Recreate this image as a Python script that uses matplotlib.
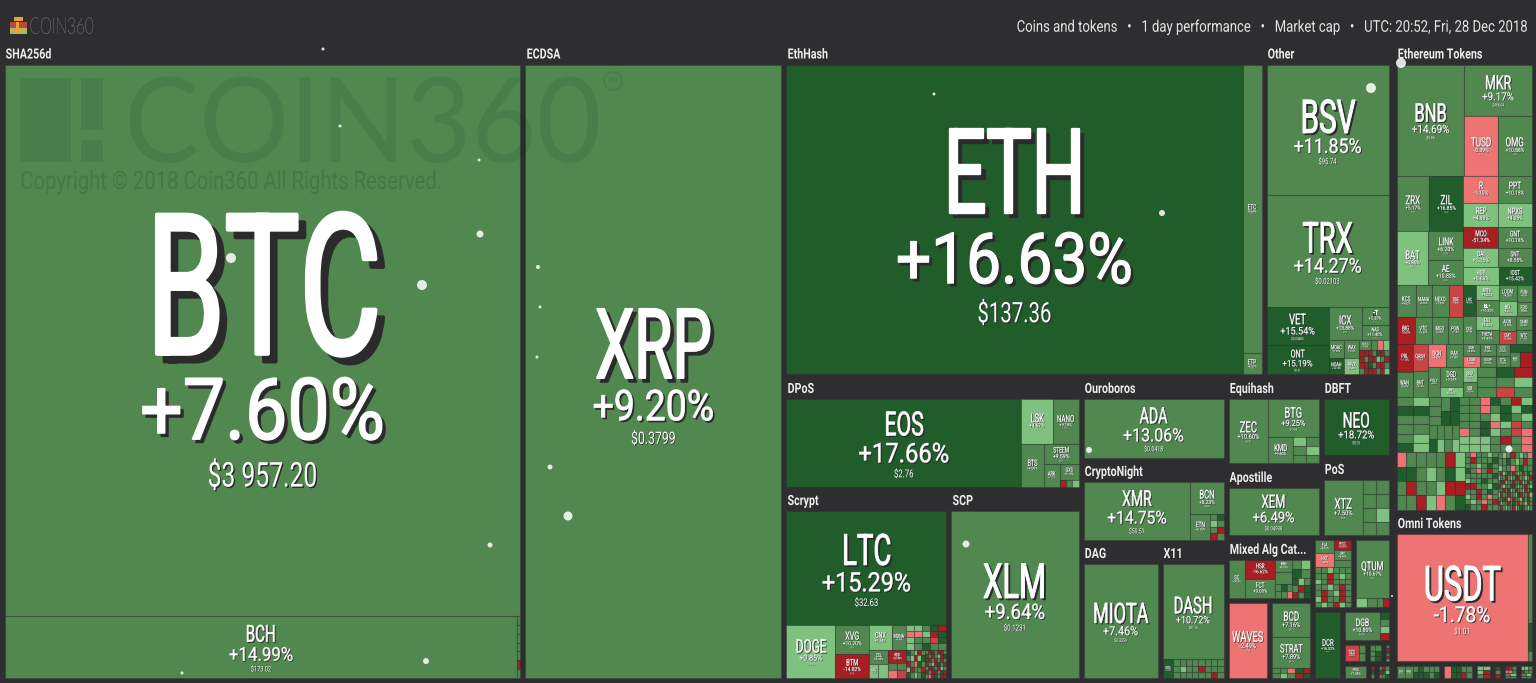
import matplotlib
matplotlib.use("Agg")
from matplotlib import pyplot as plt
from matplotlib.patches import Rectangle, Circle
from matplotlib.patheffects import AbstractPathEffect
from matplotlib.transforms import Affine2D

W, H = 1536, 683
BG = "#2e2e30"
FONT = "Roboto"


# tree helpers, cap is only relative inside its own group
def rows(*kids):
    return ("r", kids)

def cols(*kids):
    return ("c", kids)

def cell(cap, change):
    return (None, cap, change, None)

# change bands for cells too small to read
BAND = {"D": 17.0, "M": 8.0, "L": 3.0, "P": -2.0, "C": -8.0, "R": -20.0}

def grid(cap, *lines):
    n = sum(len(l) for l in lines)
    return rows(*[cols(*[cell(cap / n, BAND[ch]) for ch in l]) for l in lines])

def group(name, cap, cells):
    return ("g", name, cap, cells)


SHA_CELLS = rows(("BTC", 2848, 7.60, "$3 957.20"),
                 cols(("BCH", 318, 14.99, "$173.02"), grid(2, "M", "M", "M", "M", "M", "R", "M")))
ECDSA_CELLS = ("XRP", 1, 9.20, "$0.3799")
ETHASH_CELLS = cols(("ETH", 1414, 16.63, "$137.36"),
                    rows(("ETC", 55, 8.64, "$5.41"), ("ETP", 4, 6.57, "$1.20")))
OTHER_CELLS = rows(
    ("BSV", 159, 11.85, "$95.74"),
    ("TRX", 137, 14.27, "$0.02103"),
    cols(rows(("VET", 24, 15.54, "$0.00485"), ("ONT", 18, 15.19, "$0.61")),
         rows(cols(("ICX", 11, 13.88, "$0.23"),
                   rows(("HT", 4.9, 5.39, "$1.21"), ("NAS", 4.1, 11.40, "$1.02"))),
              cols(rows(("MOAC", 2.7, 7.5, None), ("NOAH", 2.6, 16.1, None)),
                   rows(("WAX", 2.7, 9.1, None), ("PIVX", 2.6, 3.4, None)),
                   rows(cols(("NULS", 1.2, 8.3, None), grid(1.8, "MPL")),
                        grid(7, "RRRMDRM", "RMRRLMR", "RRDMRRM", "MRRRMRL"))))))
DPOS_CELLS = cols(
    ("EOS", 204, 17.66, "$2.76"),
    rows(cols(("LSK", 14, 4.67, "$1.41"), ("NANO", 11.5, 9.18, "$1.02")),
         cols(("BTS", 9.5, 8.06, None),
              rows(("STEEM", 7, 9.59, "$0.35"),
                   cols(("ARK", 3.6, 7.21, None),
                        rows(("GXS", 2.9, 6.18, None), grid(1.3, "RML")))))))
SCRYPT_CELLS = rows(
    ("LTC", 181, 15.29, "$32.63"),
    cols(("DOGE", 26, 0.85, "$0.0021"),
         rows(("XVG", 10, 10.20, "$0.01"), ("BTM", 8, -14.82, "$0.08")),
         rows(cols(("CNX", 5.8, 1.54, None), ("MONA", 3.8, 9.45, None)),
              cols(rows(("ZCL", 2.6, 8.06, None), cols(("GAS", 1.3, 2.1, None), cell(1.4, 3.0))),
                   rows(("RDD", 2.2, -20.4, None), grid(2.7, "MM", "PC")))),
         rows(grid(10, "LLMDR", "PPLRD", "LMMCD", "LMDMM"),
              cols(grid(5.2, "DMLRM", "MLRLD", "RMPDM", "LRMMR", "DMLMD"),
                   grid(6.1, "MRDMRRM", "RMRMLRD", "DRMRMRM", "RMLRDMR", "MRDMRLM", "RMRRMDR", "MPRDMRR")))))
SCP_CELLS = ("XLM", 1, 9.64, "$0.1231")
ADA_CELLS = ("ADA", 1, 13.06, "$0.0418")
CRYPTONIGHT_CELLS = cols(
    ("XMR", 62, 14.75, "$50.51"),
    rows(("BCN", 10.6, 8.23, "$0.0008"),
         cols(("ETN", 5.2, 6.16, None), grid(3.4, "MD", "LM", "MR", "RM"))))
DAG_CELLS = ("MIOTA", 1, 7.46, "$0.3559")
X11_CELLS = rows(("DASH", 60, 10.72, "$81.16"),
                 cols(("GRS", 2.1, 16.2, None), grid(9.7, "MMMMMMMM", "MLMMRMMM", "MMMMMMRM")))
EQUIHASH_CELLS = cols(
    ("ZEC", 25.6, 10.60, "$60.91"),
    rows(("BTG", 19.4, 9.25, "$12.83"),
         cols(("KMD", 6.5, 9.80, None), grid(6.7, "LM", "ML", "MM"))))
XEM_CELLS = ("XEM", 1, 6.49, "$0.04938")
NEO_CELLS = ("NEO", 1, 18.72, "$8.25")
POS_CELLS = cols(("XTZ", 22.4, 7.50, "$0.42"),
                 grid(14.6, "MM", "MM", "ML", "MM"))
MIXED_CELLS = cols(
    ("SC", 6.6, 9.05, None),
    rows(("HSR", 5.7, -16.62, None), ("FCT", 6, 9.03, None)),
    cols(rows(("BRN", 2.1, 8.15, None), cell(2.3, 8), grid(2.5, "MDM", "MMP")),
         rows(grid(3.4, "ML", "DM"), grid(3.7, "DLM", "MRD", "RMD"))))
WAVES_CELLS = ("WAVES", 1, -2.49, "$2.11")
BCD_CELLS = rows(("BCD", 13.3, 7.16, "$0.71"), ("STRAT", 12.1, 7.89, "$0.73"),
                 grid(3.9, "MMPDR", "MLMRD"))
ELA_CELLS = rows(
    cols(rows(("ELA", 2.3, 8.1, None), ("NXT", 2.6, -1.9, None)),
         rows(("MCO2", 1.7, -18.3, None), ("DAX", 1.8, 6.4, None), cell(1.2, 8))),
    grid(14.3, "MMLMMM", "MMRMLM", "LMRMMM", "MMLMRM", "MRMLRM", "LRMMRM", "MLMRLM"))
QTUM_CELLS = rows(("QTUM", 19, 10.67, "$2.05"),
                  cols(cell(1.0, 3), cell(0.9, 8), cell(0.5, 8), cell(0.5, -20)))
DCR_CELLS = ("DCR", 1, 16.02, "$16.92")
DGB_CELLS = cols(("DGB", 9.6, 10.80, "$0.0091"), grid(2.3, "D", "M", "L", "R"))
SZC_CELLS = cols(("SZC", 2.6, -8.2, None), grid(1.2, "M", "M"))
MID_A_CELLS = grid(1, "MM", "MD", "MD")
MID_B_CELLS = grid(1, "M", "R", "D", "M", "R", "L")
PIVX_CELLS = ("PIVX", 1, 7.58, None)
TINY_A_CELLS = grid(1, "R", "D", "M")
TINY_B_CELLS = grid(1, "MRM", "RDL", "MMD")

ETH_TOKEN_CELLS = rows(
    cols(("BNB", 75, 14.69, "$5.86"),
         rows(("MKR", 34, 9.17, "$486.04"),
              cols(("TUSD", 20, -0.39, "$1.01"), ("OMG", 20, 10.88, "$1.04")))),
    cols(rows(cols(("ZRX", 18, 5.17, "$0.34"), ("ZIL", 19, 16.85, "$0.02")),
              cols(("BAT", 17, 0.80, "$0.13"),
                   rows(("LINK", 10, 6.20, "$0.30"), ("AE", 9, 10.83, "$0.47")))),
         rows(cols(("R", 9.5, -1.10, None), ("PPT", 9, 10.18, None)),
              cols(("REP", 8.4, 4.93, None), ("NPXS", 7.9, 4.05, None)),
              cols(("MCO", 7.4, -51.34, None), ("GNT", 7, 10.18, None)),
              cols(("DAI", 6.7, 1.15, None), ("SNT", 6.3, 8.55, None)),
              cols(("HOT", 6.3, 0.63, None), ("IOST", 5.9, 15.42, None)))),
    cols(rows(cols(("KCS", 5.9, 9.62, None), ("MANA", 5, 8.1, None), ("NEXO", 5.3, 7.9, None), ("DDE", 4.3, -8.8, None)),
              cols(("BIG", 4.9, -18.0, None), ("VTC", 4.6, 9.5, None), ("MGO", 4.3, 8.2, None), ("POW", 4, 7.1, None))),
         rows(cols(("LRC", 4, 16.4, None),
                   rows(("MITH", 3.4, 4.02, None), ("ELF", 3.7, 10.35, None)),
                   rows(("LOOM", 2.9, 8.2, None), ("BIX", 2.7, 3.1, None)),
                   rows(("FUN", 2.4, 9.6, None), ("EDO", 2.2, 8.8, None))),
              cols(("ODE", 3.5, 8.1, None),
                   rows(("ENJ", 3, 3.52, None), ("THETA", 3.2, 9.35, None)),
                   rows(("AION", 2.5, 7.4, None), ("CMT", 2.3, -9.2, None)),
                   rows(("SNM", 2.1, 8.4, None), ("WTC", 2, 7.7, None))))),
    cols(cols(rows(("PRL", 4.5, -17.1, None), ("WAN", 4, 8.2, None)),
              rows(("QASH", 4.2, -8.3, None), ("BNT", 3.8, 9.1, None)),
              rows(cols(("DCN", 4.1, -4.2, None), ("PAY", 3.9, 9.38, None)),
                   cols(("POLY", 3.6, 8.8, None),
                        rows(("DGD", 4.6, 9.18, None), ("WBT", 2.3, 2.25, None))))),
         rows(cols(rows(("SUB", 2, 8.3, None), ("LOOM", 2, -2.9, None)),
                   rows(("ENT", 1.9, 9.3, None), ("SOOP", 1.9, 9.1, None)),
                   rows(("CVC", 1.7, 8.5, None), ("DTA", 1.7, 7.9, None)),
                   rows(cell(1.7, 17), cols(("RAR", 1.6, 8, None), cell(1.8, -20)))),
              cols(rows(("SNV", 2.1, 3.2, None), ("VIB", 2, 8.2, None)),
                   grid(5.5, "M", "M", "M"),
                   grid(5.2, "D", "M", "C"),
                   grid(5.2, "R", "L", "M")))),
    cols(grid(18, "ML", "DD", "MM", "MM", "ML", "DL"),
         rows(cols(grid(3.3, "M", "M", "M"), grid(2.6, "M", "D"), grid(2.5, "D", "D")),
              grid(8.1, "MMMM", "DLML")),
         grid(40, "MMPDMRL", "MMPMDLD", "MMMLDML", "MMDPLCM", "PMDLMCP", "LLLMRMP", "LLLMMMP")),
    cols(grid(39, "PMMMMRL", "DDMLMDL", "MRMMLRR", "MMRLPMD"),
         grid(18.6, "MPMMLM", "MRMMMD", "MMLMDM", "DMPMRM", "MMMMMD", "LMMDMM",
              "RRMMLD", "MMRMDM", "LMRMPM", "MLMPMR", "DMMRMM"),
         rows(grid(6.3, "MLMRMLMP", "MMDMLMRM", "LMMPMDMM"),
              grid(13, "MRLMDMRMLMRMDM", "LMMRMLMDRMMLMR", "MDRLMMRMMRLMDM",
                   "RMLMMRDMLMMRML", "MMRMDLMRMMLRMD", "LRMMRMMLDRMMRL",
                   "MMDRLMRMMLRMDM", "RLMMRMDMRMMLRM", "MRMLMMRLMDRMLM"))))
OMNI_CELLS = cols(("USDT", 168, -1.78, "$1.01"),
                  rows(cell(3.5, 8), cell(1.1, 17), cell(0.4, 8)))
OMNI_A_CELLS = cols(rows(("DGX", 1.2, 8.1, None)), ("MAID", 1.1, 8.4, None),
                    grid(3.8, "MDMMM", "DDDMD"))
OMNI_B_CELLS = cols(cell(0.8, -2), grid(2.4, "DDMM", "DDRM"))
OMNI_C_CELLS = grid(1, "LL", "LR", "MR")
OMNI_D_CELLS = grid(1, "D", "M", "R")
OMNI_E_CELLS = grid(1, "RRM", "PPM", "ML", "MM")
OMNI_F_CELLS = grid(1, "LLM", "RMM", "ML", "MM")

TREE = cols(
    group("SHA256d", 3324, SHA_CELLS),
    group("ECDSA", 1665, ECDSA_CELLS),
    rows(
        cols(group("EthHash", 1606, ETHASH_CELLS), group("Other", 425, OTHER_CELLS)),
        cols(
            rows(group("DPoS", 333, DPOS_CELLS),
                 cols(group("Scrypt", 316, SCRYPT_CELLS), group("SCP", 253, SCP_CELLS))),
            rows(group("Ouroboros", 120.4, ADA_CELLS),
                 group("CryptoNight", 118.9, CRYPTONIGHT_CELLS),
                 cols(group("DAG", 109.4, DAG_CELLS), group("X11", 91.4, X11_CELLS))),
            rows(
                cols(rows(group("Equihash", 84.6, EQUIHASH_CELLS), group("Apostille", 68.4, XEM_CELLS)),
                     rows(group("DBFT", 56.7, NEO_CELLS), group("PoS", 56, POS_CELLS))),
                cols(rows(group("Mixed Alg Cat...", 54.8, MIXED_CELLS),
                          cols(group("", 34.6, WAVES_CELLS), group("", 34.6, BCD_CELLS))),
                     rows(cols(group("", 29.2, ELA_CELLS), group("", 27, QTUM_CELLS)),
                          cols(group("", 20.8, DCR_CELLS),
                               rows(group("", 16, DGB_CELLS),
                                    cols(group("", 5.4, SZC_CELLS), group("", 3.2, MID_A_CELLS), group("", 1.7, MID_B_CELLS)),
                                    cols(group("", 4.4, PIVX_CELLS), group("", 1.2, TINY_A_CELLS), group("", 2.5, TINY_B_CELLS))))))))),
    ("s", 19.1),
    rows(group("Ethereum Tokens", 657, ETH_TOKEN_CELLS),
         group("Omni Tokens", 212, OMNI_CELLS),
         cols(group("", 8.08, OMNI_A_CELLS), group("", 5.5, OMNI_B_CELLS), group("", 3.06, OMNI_C_CELLS),
              group("", 1.7, OMNI_D_CELLS), group("", 2.7, OMNI_E_CELLS), group("", 2.7, OMNI_F_CELLS))),
)

HEADER_ITEMS = ["Coins and tokens", "1 day performance", "Market cap", "UTC: 20:52, Fri, 28 Dec 2018"]
SNOW_X = [323, 340, 479, 480, 422, 231, 538, 540, 537, 550, 568, 490, 426, 182, 934, 1162, 1371, 1401, 1089, 966, 1509, 1392]
SNOW_Y = [49, 126, 160, 234, 285, 258, 267, 307, 357, 467, 516, 545, 661, 673, 94, 213, 88, 63, 450, 544, 449, 596]
SNOW_D = [3, 3, 3, 7, 10, 10, 4, 3, 3, 5, 9, 5, 6, 3, 3, 6, 10, 10, 6, 7, 7, 2]


class Squeeze(AbstractPathEffect):
    # narrows the glyphs, the site uses a condensed face we dont have
    def __init__(self, sx, anchor=0.5, dx=0, dy=0, color=None, lw=0):
        super().__init__()
        self.sx, self.anchor, self.dx, self.dy, self.color, self.lw = sx, anchor, dx, dy, color, lw

    def draw_path(self, renderer, gc, tpath, affine, rgbFace=None):
        box = tpath.get_extents(affine)
        ax0 = box.x0 + self.anchor * box.width
        tr = affine + Affine2D().translate(-ax0, 0).scale(self.sx, 1).translate(ax0 + self.dx, -self.dy)
        gc0 = renderer.new_gc()
        gc0.copy_properties(gc)
        face = self.color if self.color is not None else rgbFace
        gc0.set_linewidth(self.lw)
        if self.lw > 0:
            gc0.set_foreground(face)
            gc0.set_joinstyle("round")
        renderer.draw_path(gc0, tpath, tr, matplotlib.colors.to_rgba(face))
        gc0.restore()


def band_color(p):
    if p >= 15:
        return "#215c2b"
    if p >= 5:
        return "#508850"
    if p >= 0:
        return "#7fc27f"
    if p > -5:
        return "#ee7474"
    if p > -10:
        return "#c94545"
    return "#a81e22"


fig = plt.figure(figsize=(W / 100, H / 100), dpi=100, facecolor=BG)
ax = fig.add_axes([0, 0, 1, 1])
ax.set_xlim(0, W)
ax.set_ylim(H, 0)
ax.axis("off")


def put(x, y, s, cap, sx=0.66, anchor=0.5, color="white", shadow=True, weight="bold", family=FONT, z=5, stroke=0.0):
    em = cap / 0.711
    ha = {0.5: "center", 0: "left", 1: "right"}[anchor]
    lw = stroke * cap * 0.72
    fx = []
    if shadow:
        off = max(0.5, cap * 0.055)
        fx.append(Squeeze(sx, anchor, off, off, "#2b2b2b", lw))
    fx.append(Squeeze(sx, anchor, lw=lw))
    return ax.text(x, y + cap / 2, s, fontsize=em * 0.72, ha=ha, va="baseline", color=color,
                   family=family, fontweight=weight, path_effects=fx, zorder=z)


def weight_of(node):
    if node[0] in ("r", "c"):
        return sum(weight_of(k) for k in node[1])
    if node[0] == "g":
        return node[2]
    return node[1]


def split(node, x0, y0, x1, y1, leaf):
    if node[0] not in ("r", "c"):
        leaf(node, x0, y0, x1, y1)
        return
    total = weight_of(node)
    pos = y0 if node[0] == "r" else x0
    for kid in node[1]:
        if node[0] == "r":
            step = (y1 - y0) * weight_of(kid) / total
            split(kid, x0, pos, x1, pos + step, leaf)
        else:
            step = (x1 - x0) * weight_of(kid) / total
            split(kid, pos, y0, pos + step, y1, leaf)
        pos += step


def draw_cell(node, x0, y0, x1, y1):
    name, cap, change, price = node
    w, h = x1 - x0, y1 - y0
    ax.add_patch(Rectangle((x0, y0), w, h, fc=band_color(change), ec=(0.18, 0.18, 0.19, 0.35), lw=0.8, zorder=2))
    if not name:
        return
    m = min(w, h)
    cx, cy = (x0 + x1) / 2, (y0 + y1) / 2
    # ticker, change and price stacked around the cell middle
    t_cap = 0.27 * m
    p_cap = min(0.118 * w, 0.22 * h if h < 130 else 0.162 * h)
    q_cap = 0.4 * p_cap
    total = t_cap + p_cap + q_cap + 0.78 * p_cap
    top = cy + 0.02 * m - total / 2
    put(cx, top + t_cap / 2, name, t_cap, sx=0.64, weight="normal", stroke=0.028)
    y_p = top + t_cap + 0.4 * p_cap + p_cap / 2
    put(cx, y_p, f"{change:+.2f}%", p_cap, sx=0.88, weight="normal", stroke=0.025)
    if price:
        put(cx, y_p + p_cap / 2 + 0.38 * p_cap + q_cap / 2, price, q_cap, sx=0.72, weight="normal")


def draw_group(node, x0, y0, x1, y1):
    if node[0] == "s":
        return
    name, cells = node[1], node[3]
    top = y0 + 22 if name else y0 + 2.5
    if name:
        put(x0 + 3.5, y0 + 11, name, 10, sx=0.76, anchor=0, color="#ececec", shadow=False, weight="bold")
    split(cells, x0 + 2.5, top, x1 - 2.5, y1 - 2.5, draw_cell)


split(TREE, 2, 42.5, 1534, 680.5, draw_group)

# site logo and watermark
for bx, by, bw, bh, col in [(10, 22, 17, 6, "#b5483f"), (10, 28, 17, 6, "#8cc37a"), (16, 22, 3, 12, "#f0a030"),
                            (10, 29, 17, 2, "#f0a030"), (14, 17, 9, 4, "#f0a030")]:
    ax.add_patch(Rectangle((bx, by), bw, bh, fc=col, ec="none", zorder=6))
put(29, 25.5, "COIN360", 16, sx=0.68, anchor=0, color="#e8e8e8", shadow=False, weight="light", family="Lato", z=6)
for bx, by, bw, bh in [(20, 78, 51, 84), (81, 78, 22, 52), (81, 140, 22, 22)]:
    ax.add_patch(Rectangle((bx, by), bw, bh, fc=(0, 0, 0, 0.08), ec="none", zorder=3))
put(124, 120, "COIN360", 84, sx=0.95, anchor=0, color=(0, 0, 0, 0.08), shadow=False, weight="normal", family="Lato", z=3)
ax.add_patch(Circle((613, 81), 9, fc="none", ec=(0, 0, 0, 0.08), lw=1.2, zorder=3))
ax.text(613, 81, "TM", fontsize=5, color=(0, 0, 0, 0.1), ha="center", va="center", family=FONT, zorder=3)
put(20, 180, "Copyright © 2018 Coin360 All Rights Reserved.", 18, sx=0.8, anchor=0,
    color=(0, 0, 0, 0.12), shadow=False, weight="normal", z=3)

put(1526, 26, "   •   ".join(HEADER_ITEMS), 11.5, sx=0.81, anchor=1, color="#e4e4e4", shadow=False, weight="normal")

ax.scatter(SNOW_X, SNOW_Y, s=[(d * 0.72) ** 2 for d in SNOW_D], c="white", alpha=0.85, linewidths=0, zorder=8)

fig.savefig("out.png", dpi=100, facecolor=BG)
